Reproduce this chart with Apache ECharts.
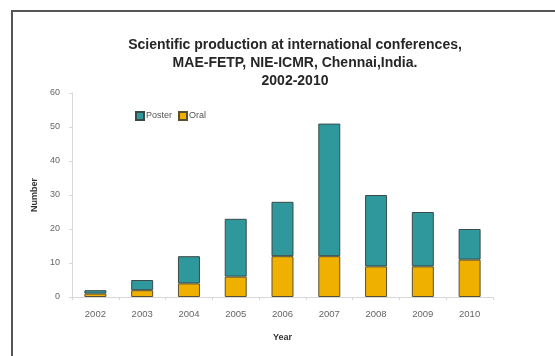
<!DOCTYPE html>
<html>
<head>
<meta charset="utf-8">
<script src="https://cdn.jsdelivr.net/npm/echarts@6/dist/echarts.min.js"></script>
<style>
  html, body { margin: 0; padding: 0; background: #fff; }
  #chart { width: 555px; height: 356px; }
</style>
</head>
<body>
<div id="chart"></div>
<script>
'use strict';

// data
const years = ['2002', '2003', '2004', '2005', '2006', '2007', '2008', '2009', '2010'];
const oral = [1, 2, 4, 6, 12, 12, 9, 9, 11];
const poster = [1, 3, 8, 17, 16, 39, 21, 16, 9];
const titleLines = [
  'Scientific production at international conferences,',
  'MAE-FETP, NIE-ICMR, Chennai,India.',
  '2002-2010'
];

const FONT = '"Liberation Sans", "DejaVu Sans", sans-serif';
const chart = echarts.init(document.getElementById('chart'), null, { renderer: 'canvas' });

chart.setOption({
  animation: false,
  backgroundColor: '#fff',
  title: {
    text: titleLines.join('\n'),
    left: 290, top: 31, textAlign: 'center',
    textStyle: { fontFamily: FONT, fontSize: 14, fontWeight: 'bold', color: '#262626', lineHeight: 18 }
  },
  legend: {
    left: 130, top: 106, itemWidth: 8, itemHeight: 8, itemGap: 6,
    icon: 'rect',
    data: ['Poster', 'Oral'],
    textStyle: { fontFamily: FONT, fontSize: 9, color: '#555', padding: [0, 0, 0, -3] }
  },
  grid: { left: 72, right: 62, top: 93, bottom: 59 },
  xAxis: {
    type: 'category', data: years,
    name: 'Year', nameLocation: 'middle', nameGap: 36,
    nameTextStyle: { fontFamily: FONT, fontSize: 9, fontWeight: 'bold', color: '#333' },
    axisLine: { lineStyle: { color: '#d8d8d8' } },
    axisTick: { show: true, length: 3, lineStyle: { color: '#d8d8d8' } },
    axisLabel: { fontFamily: FONT, fontSize: 9.5, color: '#666', margin: 12 }
  },
  yAxis: {
    type: 'value', min: 0, max: 60, interval: 10,
    name: 'Number', nameLocation: 'middle', nameGap: 33, nameRotate: 90,
    nameTextStyle: { fontFamily: FONT, fontSize: 9, fontWeight: 'bold', color: '#333' },
    axisLine: { show: true, lineStyle: { color: '#d8d8d8' } },
    axisTick: { show: true, length: 3, lineStyle: { color: '#d8d8d8' } },
    axisLabel: { fontFamily: FONT, fontSize: 9, color: '#666', margin: 12 },
    splitLine: { show: false }
  },
  series: [
    {
      name: 'Oral', type: 'bar', stack: 'n', data: oral, barWidth: '47%',
      itemStyle: { color: '#f0b000', borderColor: '#5a5030', borderWidth: 1 }
    },
    {
      name: 'Poster', type: 'bar', stack: 'n', data: poster, barWidth: '47%',
      itemStyle: { color: '#2f989d', borderColor: '#3a4a48', borderWidth: 1 }
    }
  ],
  graphic: [
    { type: 'polyline', shape: { points: [[12, 360], [12, 11], [560, 11]] },
      style: { stroke: '#555', lineWidth: 2, fill: null } }
  ]
});
</script>
</body>
</html>
